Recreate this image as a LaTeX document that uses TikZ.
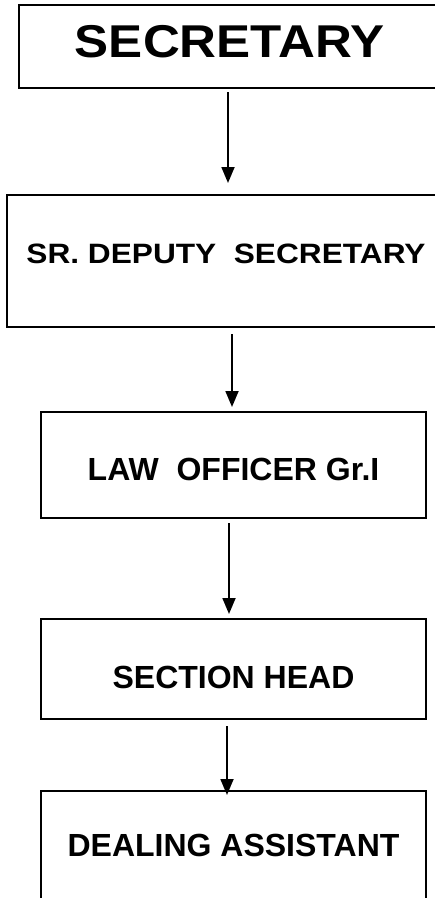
\documentclass[tikz,border=0pt]{standalone}
\usepackage{fontspec}
\setmainfont{Liberation Sans}
\definecolor{ink}{HTML}{000000}
\usepackage{tikz}
\usetikzlibrary{arrows.meta}
\usetikzlibrary{calc}
\tikzset{
	post/.style={draw=ink, line width=1.6pt, rectangle, inner sep=0pt, outer sep=0pt, font=\bfseries},
	flow/.style={draw=ink, line width=1.8pt, -{Triangle[length=16pt,width=13pt]}}
}

\begin{document}
\begin{tikzpicture}[x=1pt, y=-1pt]
	\useasboundingbox (0,0) rectangle (435,898);
	\clip (0,0) rectangle (435,898);
	% boxes
	\node[post, minimum width=421pt, minimum height=83pt, text height=33pt, text depth=11pt,
		font=\bfseries\fontsize{46}{50}\selectfont] (secy) at (229.5,46.5) {\scalebox{1.11}[1]{SECRETARY}};
	\node[post, minimum width=438pt, minimum height=132pt, text height=20pt, text depth=16pt,
		font=\bfseries\fontsize{28}{32}\selectfont] (dsecy) at (226,261) {\scalebox{1.13}[1]{SR. DEPUTY~ SECRETARY}};
	\node[post, minimum width=385pt, minimum height=106pt, text height=31pt, text depth=0pt,
		font=\bfseries\fontsize{32}{36}\selectfont] (lawo) at (233.5,465) {LAW~ OFFICER Gr.I};
	\node[post, minimum width=385pt, minimum height=100pt, text height=38pt, text depth=0pt,
		font=\bfseries\fontsize{32}{36}\selectfont] (shead) at (233.5,669) {SECTION HEAD};
	\node[post, minimum width=385pt, minimum height=119pt, text height=23pt, text depth=11pt,
		font=\bfseries\fontsize{32}{36}\selectfont] (dasst) at (233.5,850.5) {DEALING ASSISTANT};
	% arrows
	\foreach \a/\b/\dx/\s/\e in {secy/dsecy/-1.5/4/12, dsecy/lawo/6/7/5, lawo/shead/-4.5/5/5, shead/dasst/-6.5/7/-4}
	\draw[flow, shorten <=\s pt, shorten >=\e pt] ([xshift=\dx]\a.south) -- ([xshift=\dx]\a.south |- \b.north);
\end{tikzpicture}
\end{document}
